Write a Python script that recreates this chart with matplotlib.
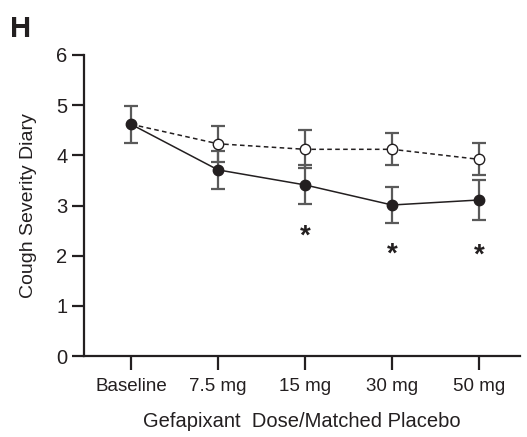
import numpy as np
import matplotlib.pyplot as plt

plt.rcParams['font.family'] = ['Liberation Sans', 'DejaVu Sans']

doses = ['Baseline', '7.5 mg', '15 mg', '30 mg', '50 mg']
gefapixant = [4.62, 3.71, 3.41, 3.01, 3.11]
gefapixant_err = [0.37, 0.38, 0.39, 0.35, 0.40]
placebo = [4.62, 4.23, 4.12, 4.12, 3.92]
placebo_err = [0.37, 0.36, 0.38, 0.32, 0.32]
star_doses = [2, 3, 4]
star_y = [2.38, 2.02, 2.0]

x = np.arange(len(doses))
ink = '#231f20'
err_col = '#5a5a5a'

fig = plt.figure(figsize=(5.27, 4.37), dpi=100)
ax = fig.add_axes([84 / 527, 81 / 437, 436 / 527, 301 / 437])

# placebo (open, dashed); baseline shared with gefapixant
ax.errorbar(x[1:], placebo[1:], yerr=placebo_err[1:], fmt='none', ecolor=err_col,
            elinewidth=1.6, capsize=5, capthick=1.6, zorder=2)
ax.plot(x, placebo, color=ink, lw=1.1, ls=(0, (3, 2.2)), zorder=3)
ax.plot(x[1:], placebo[1:], 'o', ms=7.5, mfc='white', mec=ink, mew=1.0, zorder=4)

# gefapixant (filled, solid)
ax.errorbar(x, gefapixant, yerr=gefapixant_err, fmt='none', ecolor=err_col,
            elinewidth=1.6, capsize=5, capthick=1.6, zorder=2)
ax.plot(x, gefapixant, color=ink, lw=1.1, zorder=3)
ax.plot(x, gefapixant, 'o', ms=7.5, mfc=ink, mec=ink, zorder=5)

for d, yy in zip(star_doses, star_y):
    ax.text(x[d], yy, '*', ha='center', va='center', fontsize=20, fontweight='bold', color=ink)

ax.set_xlim(-0.54, 4.47)
ax.set_ylim(0, 6)
ax.set_xticks(x)
ax.set_xticklabels(doses)
ax.set_yticks(range(0, 7))
for s in ['top', 'right']:
    ax.spines[s].set_visible(False)
for s in ['left', 'bottom']:
    ax.spines[s].set_linewidth(1.6)
    ax.spines[s].set_color(ink)
ax.tick_params(axis='y', length=9, width=1.6, color=ink, labelsize=14.5, pad=3, labelcolor=ink)
ax.tick_params(axis='x', length=10, width=1.6, color=ink, labelsize=13.5, pad=6, labelcolor=ink)
ax.set_xlabel('Gefapixant  Dose/Matched Placebo', fontsize=14.5, color=ink, labelpad=12)
ax.set_ylabel('Cough Severity Diary', fontsize=14, color=ink, labelpad=14)

fig.text(10 / 527, 1 - 37 / 437, 'H', fontsize=21, fontweight='bold', color=ink)

fig.savefig('out.png', dpi=100)
